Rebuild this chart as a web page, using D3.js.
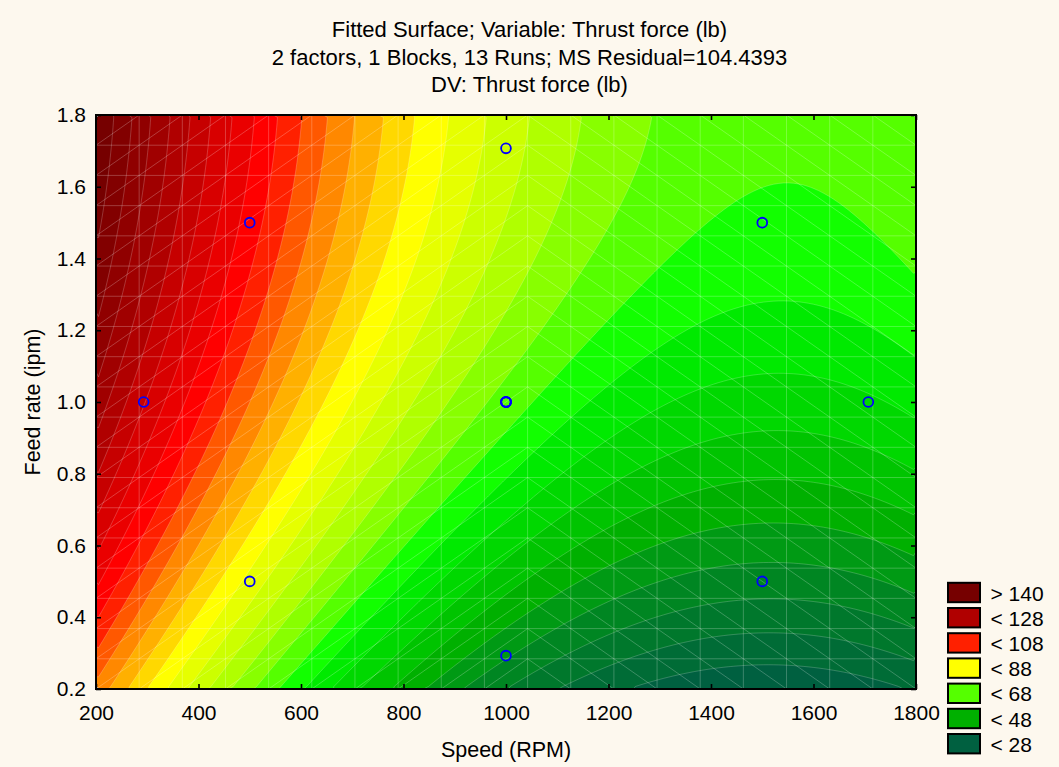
<!DOCTYPE html>
<html><head><meta charset="utf-8">
<script src="https://cdn.jsdelivr.net/npm/d3@7"></script>
<style>
html,body{margin:0;padding:0;background:#fdf8ee;}
svg{display:block;}
text{font-family:"Liberation Sans",Arial,sans-serif;fill:#000;}
</style></head><body>
<svg id="chart" width="1059" height="767"></svg>
<script>
// ---------- data ----------
const titleLines = ["Fitted Surface; Variable: Thrust force (lb)",
                    "2 factors, 1 Blocks, 13 Runs; MS Residual=104.4393",
                    "DV: Thrust force (lb)"];
const xLabel = "Speed (RPM)";
const yLabel = "Feed rate (ipm)";
const xTicks = [200, 400, 600, 800, 1000, 1200, 1400, 1600, 1800];
const yTicks = [0.2, 0.4, 0.6, 0.8, 1.0, 1.2, 1.4, 1.6, 1.8];
// 13 runs of the central composite design
const runSpeed = [500, 500, 1500, 1500, 293, 1707, 1000, 1000, 1000, 1000, 1000, 1000, 1000];
const runFeed  = [0.5, 1.5, 0.5, 1.5, 1.0, 1.0, 0.293, 1.707, 1.0, 1.0, 1.0, 1.0, 1.0];
// fitted quadratic surface (coded units)
const speedCoding = [1000, 500];   // centre, half-range
const feedCoding  = [1.0, 0.5];
const coefTerms  = ["1", "S", "F", "S^2", "F^2", "S*F"];
const coefValues = [66.28, -22.95, 13.16, 10.8, -3.6, -0.6];
// contour levels
const levels = [28,32,36,40,44,48,52,56,60,64,68,72,76,80,84,88,92,96,100,104,108,112,116,120,124,128,132,136,140];
const bandColors = ["#006040","#006c36","#00782c","#008622","#009a14","#00b000","#00c400","#00d800","#00ea00","#12ff00",
                    "#55ff00","#88ff00","#b0ff00","#ccff00","#e6ff00","#ffff00","#ffd800","#ffb000","#ff8800","#ff5800",
                    "#ff2000","#ff0000","#ea0000","#d80000","#c60000","#b00000","#a00000","#900000","#820000","#760000"];
const legendLabels = ["> 140", "< 128", "< 108", "< 88", "< 68", "< 48", "< 28"];
const legendColors = ["#760000", "#b00000", "#ff2000", "#ffff00", "#55ff00", "#00b000", "#006040"];

// ---------- layout ----------
const svg = d3.select("#chart");
const W = 1059, H = 767;
const L = 96, R = 916, T = 115, B = 689;
svg.append("rect").attr("width", W).attr("height", H).attr("fill", "#fdf8ee");

const x = d3.scaleLinear().domain([200, 1800]).range([L, R]);
const y = d3.scaleLinear().domain([0.2, 1.8]).range([B, T]);

function surface(s, f) {
  const u = (s - speedCoding[0]) / speedCoding[1];
  const v = (f - feedCoding[0]) / feedCoding[1];
  const c = coefValues;
  return c[0] + c[1]*u + c[2]*v + c[3]*u*u + c[4]*v*v + c[5]*u*v;
}

// ---------- contour bands ----------
const nx = 164, ny = 115;
const gx = d3.scaleLinear().domain([0, nx]).range([200, 1800]);
const gy = d3.scaleLinear().domain([0, ny]).range([1.8, 0.2]);
const values = new Float64Array(nx * ny);
for (let j = 0; j < ny; j++) for (let i = 0; i < nx; i++)
  values[j * nx + i] = surface(gx(i + 0.5), gy(j + 0.5));
const contours = d3.contours().size([nx, ny]).thresholds(levels)(values);
const proj = d3.geoTransform({ point(px, py) { this.stream.point(x(gx(px)), y(gy(py))); } });
const path = d3.geoPath(proj);

svg.append("clipPath").attr("id", "plotclip")
  .append("rect").attr("x", L).attr("y", T).attr("width", R - L).attr("height", B - T);
const plot = svg.append("g").attr("clip-path", "url(#plotclip)");
plot.append("rect").attr("x", L).attr("y", T).attr("width", R - L).attr("height", B - T)
  .attr("fill", bandColors[0]);
plot.selectAll("path.band").data(contours).join("path")
  .attr("class", "band")
  .attr("d", path)
  .attr("fill", (d, i) => bandColors[i + 1])
  .attr("stroke", "none");

// ---------- mesh overlay (20 x 20 grid, triangulated) ----------
const meshN = 19;
const meshS = d3.range(meshN + 1).map(i => 200 + i * 1600 / meshN);
const meshF = d3.range(meshN + 1).map(j => 0.2 + j * 1.6 / meshN);
const mesh = plot.append("g").attr("stroke", "rgba(255,255,255,0.23)").attr("stroke-width", 1).attr("fill", "none");
meshS.forEach(s => mesh.append("line").attr("x1", x(s)).attr("x2", x(s)).attr("y1", T).attr("y2", B));
meshF.forEach(f => mesh.append("line").attr("y1", y(f)).attr("y2", y(f)).attr("x1", L).attr("x2", R));
for (let i = 0; i < meshN; i++) for (let j = 0; j < meshN; j++) {
  if (i < 10) mesh.append("line").attr("x1", x(meshS[i])).attr("y1", y(meshF[j])).attr("x2", x(meshS[i+1])).attr("y2", y(meshF[j+1]));
  else mesh.append("line").attr("x1", x(meshS[i])).attr("y1", y(meshF[j+1])).attr("x2", x(meshS[i+1])).attr("y2", y(meshF[j]));
}
// light contour outlines
plot.selectAll("path.edge").data(contours).join("path")
  .attr("class", "edge").attr("d", path)
  .attr("fill", "none").attr("stroke", "rgba(255,255,255,0.26)").attr("stroke-width", 0.8);

// ---------- design points ----------
svg.append("g").selectAll("circle").data(runSpeed).join("circle")
  .attr("cx", (d) => x(d)).attr("cy", (d, i) => y(runFeed[i]))
  .attr("r", 4.9).attr("fill", "none").attr("stroke", "#0000ff").attr("stroke-width", 1.8);

// ---------- axes ----------
function styleAxis(g) {
  g.select(".domain").remove();
  g.selectAll(".tick line").attr("stroke", "#000").attr("stroke-width", 1.6);
  g.selectAll(".tick text").attr("font-size", 21).attr("font-family", '"Liberation Sans",Arial,sans-serif').attr("fill", "#000");
}
svg.append("g").attr("transform", `translate(0,${B})`)
  .call(d3.axisBottom(x).tickValues(xTicks).tickFormat(d3.format("d")).tickSize(-5).tickPadding(16))
  .call(styleAxis);
svg.append("g").attr("transform", `translate(0,${T})`)
  .call(d3.axisTop(x).tickValues(xTicks).tickFormat("").tickSize(-5))
  .call(styleAxis);
svg.append("g").attr("transform", `translate(${L},0)`)
  .call(d3.axisLeft(y).tickValues(yTicks).tickFormat(d3.format(".1f")).tickSize(-5).tickPadding(10))
  .call(styleAxis);
svg.append("g").attr("transform", `translate(${R},0)`)
  .call(d3.axisRight(y).tickValues(yTicks).tickFormat("").tickSize(-5))
  .call(styleAxis);
svg.append("rect").attr("x", L).attr("y", T).attr("width", R - L).attr("height", B - T)
  .attr("fill", "none").attr("stroke", "#000").attr("stroke-width", 2);

// ---------- titles ----------
svg.append("g").selectAll("text").data(titleLines).join("text")
  .attr("x", 529.5).attr("y", (d, i) => 37 + i * 27.7)
  .attr("text-anchor", "middle").attr("font-size", 22).text(d => d);
svg.append("text").attr("x", (L + R) / 2).attr("y", 757)
  .attr("text-anchor", "middle").attr("font-size", 21.5).text(xLabel);
svg.append("text").attr("transform", `translate(40,${(T + B) / 2}) rotate(-90)`)
  .attr("text-anchor", "middle").attr("font-size", 21.5).text(yLabel);

// ---------- legend ----------
const lg = svg.append("g");
legendLabels.forEach((lab, i) => {
  const cy = 592.5 + i * 25.2;
  lg.append("rect").attr("x", 948).attr("y", cy - 9.7).attr("width", 32).attr("height", 19.4)
    .attr("fill", legendColors[i]).attr("stroke", "#000").attr("stroke-width", 2);
  lg.append("text").attr("x", 990.5).attr("y", cy + 8).attr("font-size", 21).text(lab);
});
</script>
</body></html>
